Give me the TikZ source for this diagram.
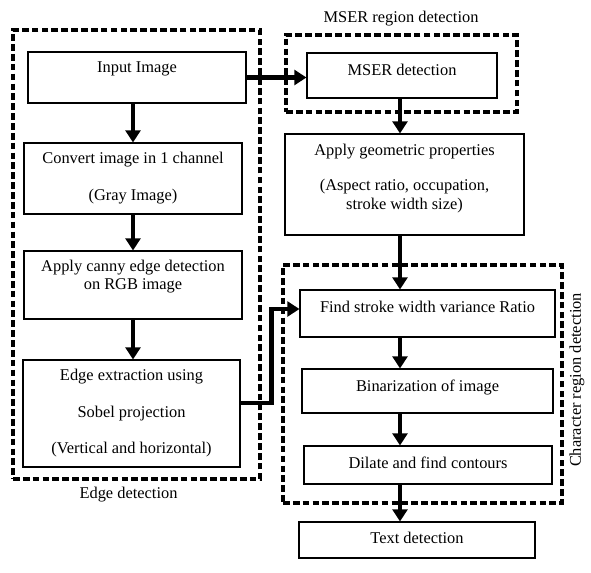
\documentclass[tikz,border=0pt]{standalone}
\usepackage{fontspec}
\setmainfont{Liberation Serif}
\usetikzlibrary{arrows.meta,calc}
\newcommand{\dropby}[1]{\rule[-#1]{0pt}{0pt}}

\begin{document}
\begin{tikzpicture}[x=0.75pt, y=-0.75pt,
    font=\fontsize{12.3}{13.8}\selectfont,
    dims/.style 2 args={minimum width=#1*0.75pt, minimum height=#2*0.75pt},
    box/.style={draw, line width=0.8pt, align=center, inner sep=0pt},
    group/.style={draw, line width=2.4pt, dash pattern=on 5pt off 2.4pt, inner sep=0pt},
    flow/.style={line width=3.2pt, -{Triangle[width=11pt,length=9pt]}}]
             \useasboundingbox (0,0) rectangle (591,572);
             \coordinate (lcol) at (133,0);
             \coordinate (rcol) at (400,0);

             \node[group, dims={247}{449}] (edgegrp) at (136.5,254.5) {};
             \node[group, dims={231}{77}] (msergrp) at (401.5,73.5) {};
             \node[group, dims={279}{238}] (chargrp) at (422.5,384) {};
             \node (edgelbl) at (128.5,495) {Edge detection};
             \node (mserlbl) at (401,19) {MSER region detection};
             \node[rotate=90] (charlbl) at (577,380) {Character region detection};

             \node[box, dims={218}{51}] (input) at (137,77.5) {Input Image\dropby{15.4pt}};
             \node[box, dims={218}{71}] (convert) at (133,178.5) {Convert image in 1 channel\\[13.9pt](Gray Image)};
             \node[box, dims={218}{68}] (canny) at (133,285) {Apply canny edge detection\\on RGB image\dropby{15.4pt}};
             \node[box, dims={217}{107}] (edge) at (131.5,413.5) {Edge extraction using\\[13.6pt]Sobel projection\\[13.6pt](Vertical and horizontal)};

             \node[box, dims={190}{45}] (mser) at (402,75.5) {MSER detection\dropby{8.2pt}};
             \node[box, dims={239}{101}] (geom) at (404.5,184.5) {Apply geometric properties\\[12.4pt](Aspect ratio, occupation,\\stroke width size)\dropby{11.6pt}};
             \node[box, dims={255}{47}] (stroke) at (427.5,313.5) {Find stroke width variance Ratio\dropby{9.8pt}};
             \node[box, dims={251}{44}] (binar) at (427.5,391) {Binarization of image\dropby{8.6pt}};
             \node[box, dims={248}{38}] (dilate) at (428,465) {Dilate and find contours\dropby{3pt}};
             \node[box, dims={236}{36}] (textdet) at (417,540) {Text detection\dropby{3pt}};

             \draw[flow] (input.east) -- (input.east -| mser.west);
             \draw[flow] (input.south -| lcol) -- (convert.north -| lcol);
             \draw[flow] (convert.south -| lcol) -- (canny.north -| lcol);
             \draw[flow] (canny.south -| lcol) -- (edge.north -| lcol);
             \draw[flow] ($(edge.east)+(0,-10.5)$) -- ++(31,0) |- ($(stroke.west)+(0,-4.5)$);

             \draw[flow] (mser.south -| rcol) -- (geom.north -| rcol);
             \draw[flow] (geom.south -| rcol) -- (stroke.north -| rcol);
             \draw[flow] (stroke.south -| rcol) -- (binar.north -| rcol);
             \draw[flow] (binar.south -| rcol) -- (dilate.north -| rcol);
             \draw[flow] (dilate.south -| rcol) -- (textdet.north -| rcol);
             \end{tikzpicture}
\end{document}
